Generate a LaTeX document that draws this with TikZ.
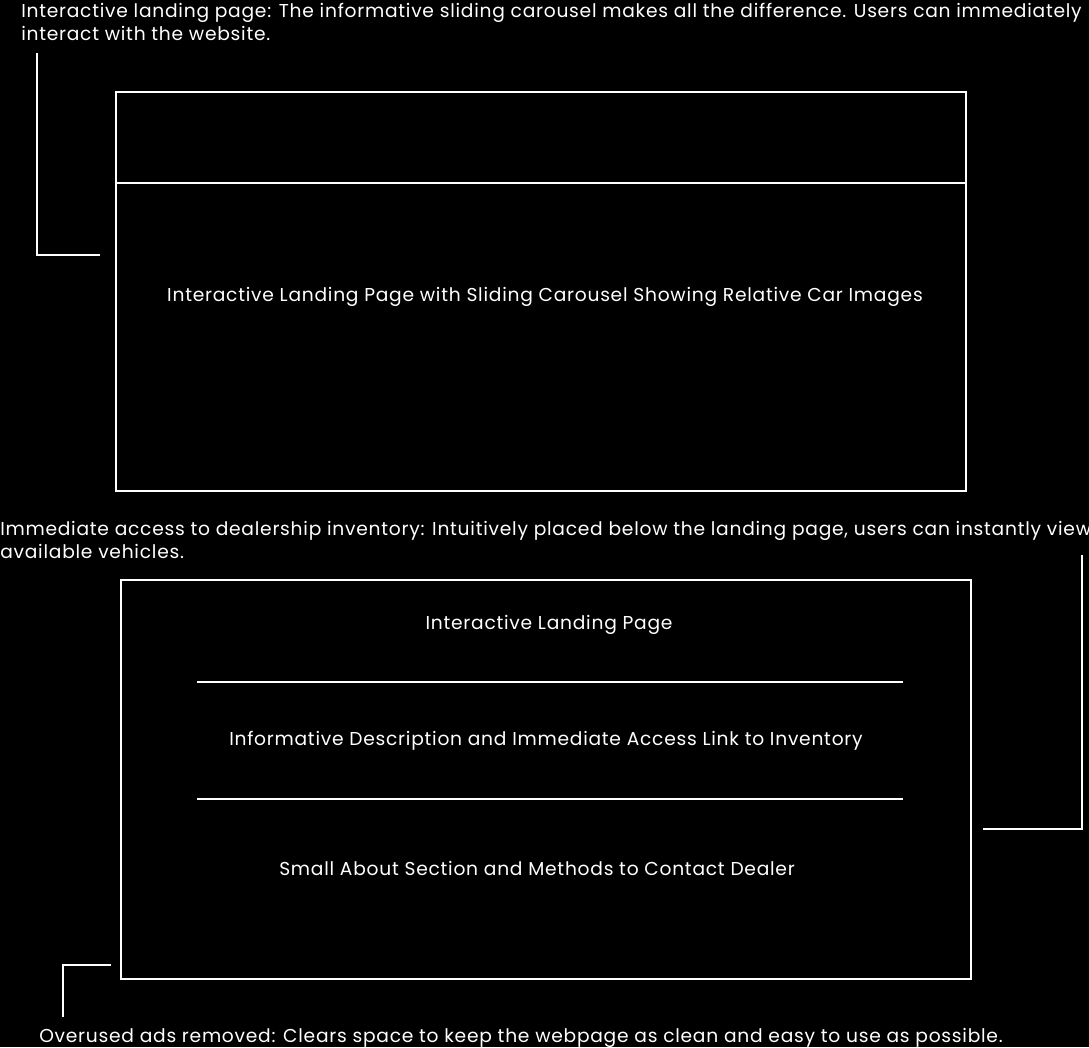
\documentclass[tikz,border=0pt]{standalone}
\usepackage{fontspec}
\setmainfont{Poppins}[LetterSpace=4]
\begin{document}
\begin{tikzpicture}[x=0.75pt,y=-0.75pt,
  wline/.style={draw=white,line width=1.5pt},
  boxnode/.style={draw=white,line width=1.5pt,minimum width=637.5pt,minimum height=299.25pt,inner sep=0pt},
  lbl/.style={text=white,inner sep=0pt,font=\fontsize{14pt}{17.25pt}\selectfont},
  captext/.style={lbl,align=left}]
\fill[black] (0,0) rectangle (1089,1047);
\useasboundingbox (0,0) rectangle (1089,1047);

% top caption
\node[captext,anchor=west] (cap1) at (21,22) {Interactive landing page: The informative sliding carousel makes all the difference. Users can immediately\\interact with the website.};
% top box
\node[boxnode] (topbox) at (541,291.5) {};
\draw[wline] (topbox.west |- 0,183) -- (topbox.east |- 0,183);
\node[lbl] (carousel) at (545,297) {Interactive Landing Page with Sliding Carousel Showing Relative Car Images};
\coordinate (b1a) at (37,53);
\coordinate (b1b) at (100,255);
\draw[wline] (b1a) |- (b1b);

% middle caption
\node[captext,anchor=west] (cap2) at (0,540) {Immediate access to dealership inventory: Intuitively placed below the landing page, users can instantly view\\available vehicles.};
% bottom box
\node[boxnode] (botbox) at (546,779.5) {};
\coordinate (d1l) at (197,682);
\coordinate (d1r) at (903,682);
\coordinate (d2l) at (197,799);
\coordinate (d2r) at (903,799);
\draw[wline] (d1l) -- (d1r);
\draw[wline] (d2l) -- (d2r);
\node[lbl] (landing) at (549,625) {Interactive Landing Page};
\node[lbl] (descr) at (546,741) {Informative Description and Immediate Access Link to Inventory};
\node[lbl] (about) at (537,868) {Small About Section and Methods to Contact Dealer};
\coordinate (b2a) at (1082,555);
\coordinate (b2b) at (983,829);
\draw[wline] (b2a) |- (b2b);

% bottom caption
\node[lbl,anchor=west] (cap3) at (39,1038) {Overused ads removed: Clears space to keep the webpage as clean and easy to use as possible.};
\coordinate (b3a) at (63,1017);
\coordinate (b3b) at (111,965);
\draw[wline] (b3a) |- (b3b);
\end{tikzpicture}
\end{document}
